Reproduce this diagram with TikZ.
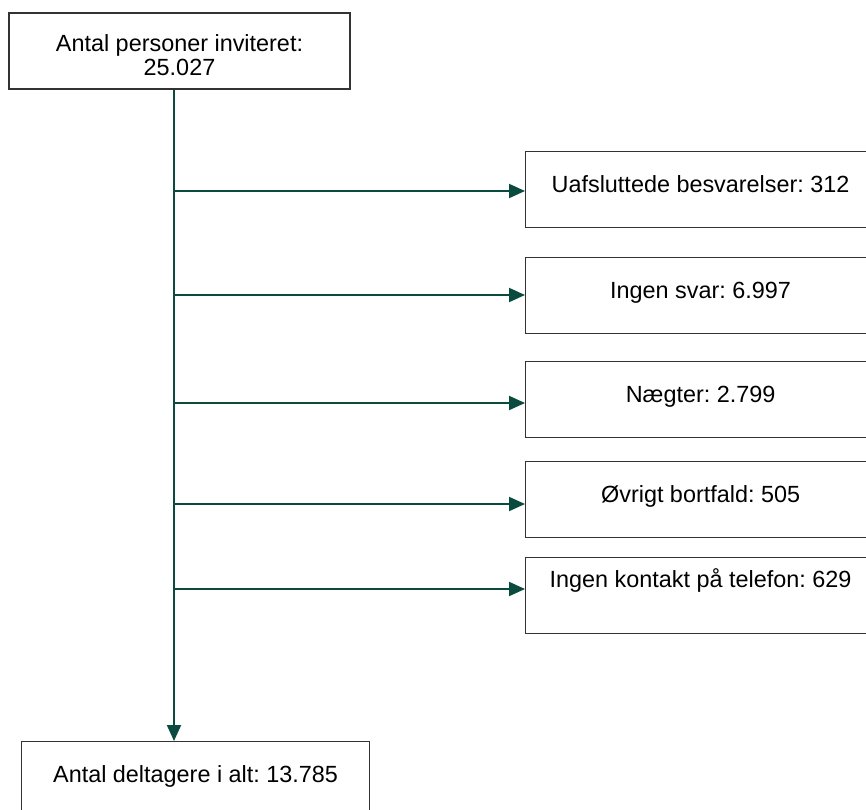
\documentclass[tikz,border=0pt]{standalone}
\usepackage{fontspec}
\setmainfont{Liberation Sans}
\usetikzlibrary{arrows.meta}
\definecolor{flowgreen}{HTML}{0B4A3E}
\tikzset{
  box/.style={draw=black!80, line width=1.2pt, inner sep=0pt, font=\fontsize{23.4}{24}\selectfont},
  outbox/.style={box, anchor=north west, minimum width=350pt, text height=41pt, text depth=35pt},
  flow/.style={draw=flowgreen, line width=2pt, -{Triangle[length=16pt,width=14pt]}}
}
\frenchspacing

\begin{document}
\begin{tikzpicture}[x=1pt, y=-1pt]
    \useasboundingbox (0,0) rectangle (866,809);

    % Top box
    \node[box, align=center, minimum width=341pt, minimum height=76pt] (invited) at (179.5,51) {\rule{0pt}{25pt}Antal personer inviteret:\\25.027};

    % Bottom box
    \node[outbox, minimum width=348pt] (total) at (21,741) {Antal deltagere i alt: 13.785};

    % Boxes on the right
    \node[outbox] (unfinished) at (525,151) {Uafsluttede besvarelser: 312};
    \node[outbox] (noanswer) at (525,257) {Ingen svar: 6.997};
    \node[outbox] (refused) at (525,361) {Nægter: 2.799};
    \node[outbox] (other) at (525,461) {Øvrigt bortfald: 505};
    \node[outbox, text height=30pt, text depth=46pt] (nocontact) at (525,557) {Ingen kontakt på telefon: 629};

    % Trunk
    \coordinate (trunk) at (174,0);
    \draw[flow] (invited.south -| trunk) -- (total.north -| trunk);

    % Branches
    \foreach \name/\y in {unfinished/191, noanswer/295, refused/403, other/504, nocontact/589} {
      \coordinate (b-\name) at (175,\y);
      \draw[flow] (b-\name) -- (b-\name -| \name.west);
    }
\end{tikzpicture}
\end{document}
